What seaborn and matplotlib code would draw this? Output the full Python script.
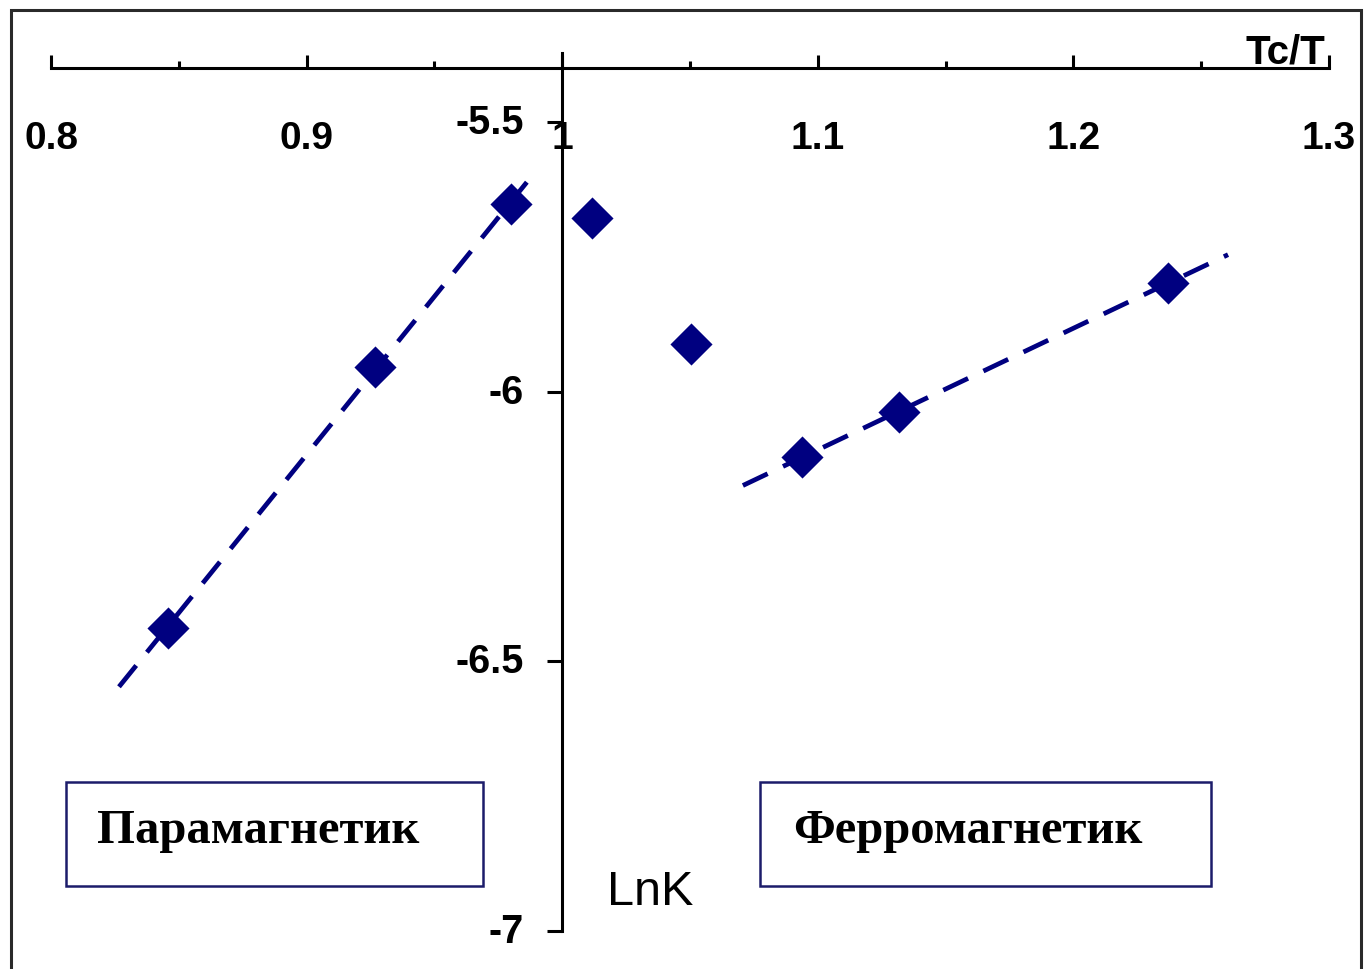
import numpy as np
import pandas as pd
import matplotlib
matplotlib.use("Agg")
import matplotlib.pyplot as plt
from matplotlib.patches import Rectangle
import seaborn as sns

# ---- data ----
tc_t = [0.8457, 0.9266, 0.9800, 1.0117, 1.0504, 1.0938, 1.1316, 1.2371]
lnk = [-6.438, -5.954, -5.652, -5.678, -5.912, -6.121, -6.038, -5.7985]

para_idx = [0, 1, 2]          # points used for paramagnetic trend
ferro_idx = [5, 6, 7]         # points used for ferromagnetic trend
para_range = [0.8266, 0.9902]  # extent of the trend lines
ferro_range = [1.0707, 1.2605]

x_ticks = [0.8, 0.9, 1.0, 1.1, 1.2, 1.3]
x_tick_labels = ["0.8", "0.9", "1", "1.1", "1.2", "1.3"]
x_minor = [0.85, 0.95, 1.05, 1.15, 1.25]
y_ticks = [-7, -6.5, -6, -5.5]
y_tick_labels = ["-7", "-6.5", "-6", "-5.5"]

label_para = "Парамагнетик"
label_ferro = "Ферромагнетик"
x_label = "Tc/T"
y_label = "LnK"

# ---- style ----
sns.set_theme(style="white")
plt.rcParams["font.family"] = ["Liberation Sans", "DejaVu Sans"]
plt.rcParams["text.color"] = "black"
plt.rcParams["xtick.color"] = "black"
plt.rcParams["ytick.color"] = "black"
plt.rcParams["xtick.labelcolor"] = "black"
plt.rcParams["ytick.labelcolor"] = "black"

NAVY = "#000080"
W, H = 1364, 970

fig = plt.figure(figsize=(W / 100, H / 100), dpi=100)
fig.patch.set_facecolor("white")
ax = fig.add_axes([51 / W, 38 / H, 1278 / W, (932 - 69) / H])
ax.set_facecolor("white")

df = pd.DataFrame({"x": tc_t, "y": lnk})
sns.scatterplot(data=df, x="x", y="y", marker="D", s=460, color=NAVY,
                edgecolor=NAVY, linewidth=0, ax=ax, zorder=3)


def trend(idx, rng):
    xs = np.array([tc_t[i] for i in idx])
    ys = np.array([lnk[i] for i in idx])
    k, b = np.polyfit(xs, ys, 1)
    xr = np.array(rng)
    return pd.DataFrame({"x": xr, "y": k * xr + b})


for idx, rng in [(para_idx, para_range), (ferro_idx, ferro_range)]:
    t = trend(idx, rng)
    sns.lineplot(data=t, x="x", y="y", color=NAVY, lw=3.4,
                 linestyle=(0, (5.8, 3.6)), ax=ax, zorder=2)

ax.set_xlim(0.8, 1.3)
ax.set_ylim(-7, -5.4)
ax.set_xlabel("")
ax.set_ylabel("")

for s in ["bottom", "right"]:
    ax.spines[s].set_visible(False)
ax.spines["left"].set_position(("data", 1.0))
ax.spines["left"].set_bounds(-7, -5.372)
for s in ["left", "top"]:
    ax.spines[s].set_linewidth(2.2)
    ax.spines[s].set_color("black")

ax.xaxis.set_ticks_position("top")
ax.set_xticks(x_ticks)
ax.set_xticklabels(x_tick_labels)
ax.set_xticks(x_minor, minor=True)
ax.tick_params(axis="x", which="major", direction="out", length=9.4, width=2.2,
               color="black", labelcolor="black", top=True, bottom=False,
               labeltop=True, labelbottom=False, pad=-73, labelsize=28)
ax.tick_params(axis="x", which="minor", direction="out", length=5, width=2.2,
               color="black", top=True, bottom=False)
for lab in ax.get_xticklabels():
    lab.set_fontweight("bold")

ax.yaxis.set_ticks_position("left")
ax.set_yticks(y_ticks)
ax.set_yticklabels(y_tick_labels)
ax.tick_params(axis="y", which="major", direction="out", length=10.8, width=2.2,
               color="black", labelcolor="black", pad=17, labelsize=28.5)
for lab in ax.get_yticklabels():
    lab.set_fontweight("bold")
    lab.set_verticalalignment("center")
ax.grid(False)

# axis titles
fig.text(1325 / W, (H - 63) / H, x_label, ha="right", va="baseline",
         fontsize=29, fontweight="bold", color="black")
fig.text(607 / W, (H - 905) / H, y_label, ha="left", va="baseline",
         fontsize=35, color="black")

# label boxes
for (x0, w), txt, tx in [((66, 417), label_para, 97), ((760, 451), label_ferro, 793)]:
    fig.add_artist(Rectangle((x0 / W, (H - 887) / H), w / W, 104 / H,
                             transform=fig.transFigure, fill=False,
                             edgecolor="#1c1c6a", lw=1.8))
    fig.text(tx / W, (H - 843) / H, txt, ha="left", va="baseline",
             fontsize=35, fontweight="bold", color="black",
             family=["Liberation Serif", "DejaVu Serif"])

# outer frame
fig.add_artist(Rectangle((11 / W, -0.1), 1350 / W, (H - 11) / H + 0.1,
                         transform=fig.transFigure, fill=False,
                         edgecolor="#2a2a2a", lw=2.2))

fig.savefig("out.png", dpi=100, facecolor="white")
